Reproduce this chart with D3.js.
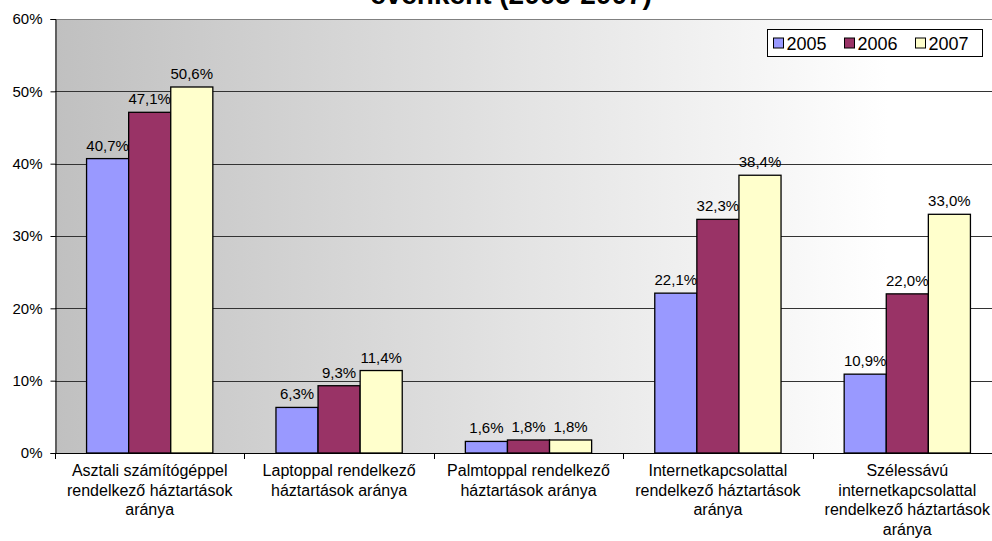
<!DOCTYPE html>
<html>
<head>
<meta charset="utf-8">
<script src="https://cdn.jsdelivr.net/npm/d3@7"></script>
<style>
  html, body { margin: 0; padding: 0; background: #fff; }
  svg { display: block; font-family: Arial, "Liberation Sans", sans-serif; }
</style>
</head>
<body>
<svg id="chart" width="992" height="541"></svg>
<script>
// Household ICT equipment shares by year
const categories = [
  ["Asztali számítógéppel", "rendelkező háztartások", "aránya"],
  ["Laptoppal rendelkező", "háztartások aránya"],
  ["Palmtoppal rendelkező", "háztartások aránya"],
  ["Internetkapcsolattal", "rendelkező háztartások", "aránya"],
  ["Szélessávú", "internetkapcsolattal", "rendelkező háztartások", "aránya"]
];
const years = ["2005", "2006", "2007"];
const values2005 = [40.7, 6.3, 1.6, 22.1, 10.9];
const values2006 = [47.1, 9.3, 1.8, 32.3, 22.0];
const values2007 = [50.6, 11.4, 1.8, 38.4, 33.0];
const yTicks = [0, 10, 20, 30, 40, 50, 60];
const titleText = "évenként (2005-2007)";

const seriesValues = [values2005, values2006, values2007];
const colors = ["#9999FF", "#993366", "#FFFFCC"];

const svg = d3.select("#chart");
const plot = { left: 55, right: 1002, top: 19, bottom: 453 };

const x0 = d3.scaleBand()
  .domain(d3.range(categories.length))
  .range([plot.left, plot.right])
  .paddingInner(0).paddingOuter(0);

const x1 = d3.scaleBand()
  .domain(years)
  .range([0, x0.bandwidth()])
  .paddingInner(0)
  .paddingOuter(0.75); // Excel gap width 150%

const y = d3.scaleLinear().domain([0, 60]).range([plot.bottom, plot.top]);

// Plot area background gradient
const defs = svg.append("defs");
const grad = defs.append("linearGradient").attr("id", "bg")
  .attr("x1", "0%").attr("x2", "100%").attr("y1", "0%").attr("y2", "0%");
grad.append("stop").attr("offset", "0%").attr("stop-color", "#c0c0c0");
grad.append("stop").attr("offset", "88%").attr("stop-color", "#ffffff");
grad.append("stop").attr("offset", "100%").attr("stop-color", "#ffffff");

svg.append("rect")
  .attr("x", plot.left).attr("y", plot.top)
  .attr("width", plot.right - plot.left).attr("height", plot.bottom - plot.top)
  .attr("fill", "url(#bg)");

// Horizontal gridlines
svg.append("g").selectAll("line")
  .data(yTicks.filter(d => d > 0))
  .join("line")
  .attr("x1", plot.left).attr("x2", plot.right)
  .attr("y1", d => Math.round(y(d)) + 0.5).attr("y2", d => Math.round(y(d)) + 0.5)
  .attr("stroke", d => d === 60 ? "#808080" : "#333")
  .attr("stroke-width", 1);

// Bars
const groups = svg.append("g").selectAll("g")
  .data(categories.map((c, i) => i))
  .join("g")
  .attr("transform", i => `translate(${x0(i)},0)`);

groups.selectAll("rect")
  .data(i => years.map((yr, s) => ({ yr, s, v: seriesValues[s][i] })))
  .join("rect")
  .attr("x", d => x1(d.yr))
  .attr("y", d => y(d.v))
  .attr("width", x1.bandwidth())
  .attr("height", d => y(0) - y(d.v))
  .attr("fill", d => colors[d.s])
  .attr("stroke", "#000")
  .attr("stroke-width", 1.3);

// Value labels
groups.selectAll("text")
  .data(i => years.map((yr, s) => ({ yr, s, v: seriesValues[s][i] })))
  .join("text")
  .attr("x", d => x1(d.yr) + x1.bandwidth() / 2)
  .attr("y", d => y(d.v) - 8)
  .attr("text-anchor", "middle")
  .attr("font-size", 15)
  .attr("fill", "#000")
  .text(d => d.v.toFixed(1).replace(".", ",") + "%");

// Y axis
const yAxis = d3.axisLeft(y)
  .tickValues(yTicks)
  .tickSize(5)
  .tickPadding(8)
  .tickFormat(d => d + "%");
const gy = svg.append("g")
  .attr("transform", `translate(${plot.left + 0.5},0)`)
  .call(yAxis);
gy.select(".domain").attr("stroke", "#000");
gy.selectAll(".tick line").attr("stroke", "#000");
gy.selectAll(".tick text").attr("font-size", 15).attr("fill", "#000")
  .attr("font-family", "Arial, 'Liberation Sans', sans-serif");

// X axis baseline and category separators
const boundaries = d3.range(categories.length + 1).map(i => plot.left + i * x0.bandwidth());
svg.append("line")
  .attr("x1", plot.left).attr("x2", plot.right)
  .attr("y1", plot.bottom + 0.5).attr("y2", plot.bottom + 0.5)
  .attr("stroke", "#000");
svg.append("g").selectAll("line")
  .data(boundaries)
  .join("line")
  .attr("x1", d => Math.round(d) + 0.5).attr("x2", d => Math.round(d) + 0.5)
  .attr("y1", plot.bottom).attr("y2", plot.bottom + 6)
  .attr("stroke", "#000");

// Category labels (multi-line)
const catText = svg.append("g").selectAll("text")
  .data(categories)
  .join("text")
  .attr("x", (d, i) => x0(i) + x0.bandwidth() / 2)
  .attr("y", 476)
  .attr("text-anchor", "middle")
  .attr("font-size", 16)
  .attr("fill", "#000");
catText.selectAll("tspan")
  .data(d => d)
  .join("tspan")
  .attr("x", function () { return d3.select(this.parentNode).attr("x"); })
  .attr("dy", (d, j) => j === 0 ? 0 : 19.5)
  .text(d => d);

// Title (its last line sits at the top edge)
svg.append("text")
  .attr("x", 511).attr("y", 4)
  .attr("text-anchor", "middle")
  .attr("font-size", 28)
  .attr("font-weight", "bold")
  .attr("fill", "#000")
  .text(titleText);

// Legend
const legend = svg.append("g").attr("transform", "translate(767.5,29.5)");
legend.append("rect")
  .attr("width", 215).attr("height", 27)
  .attr("fill", "#fff").attr("stroke", "#000");
const item = legend.selectAll("g.item")
  .data(years)
  .join("g")
  .attr("class", "item")
  .attr("transform", (d, i) => `translate(${6 + i * 71},0)`);
item.append("rect")
  .attr("x", 0).attr("y", 8.5)
  .attr("width", 10).attr("height", 10)
  .attr("fill", (d, i) => colors[i])
  .attr("stroke", "#000");
item.append("text")
  .attr("x", 13).attr("y", 20)
  .attr("font-size", 18)
  .attr("fill", "#000")
  .text(d => d);
</script>
</body>
</html>
